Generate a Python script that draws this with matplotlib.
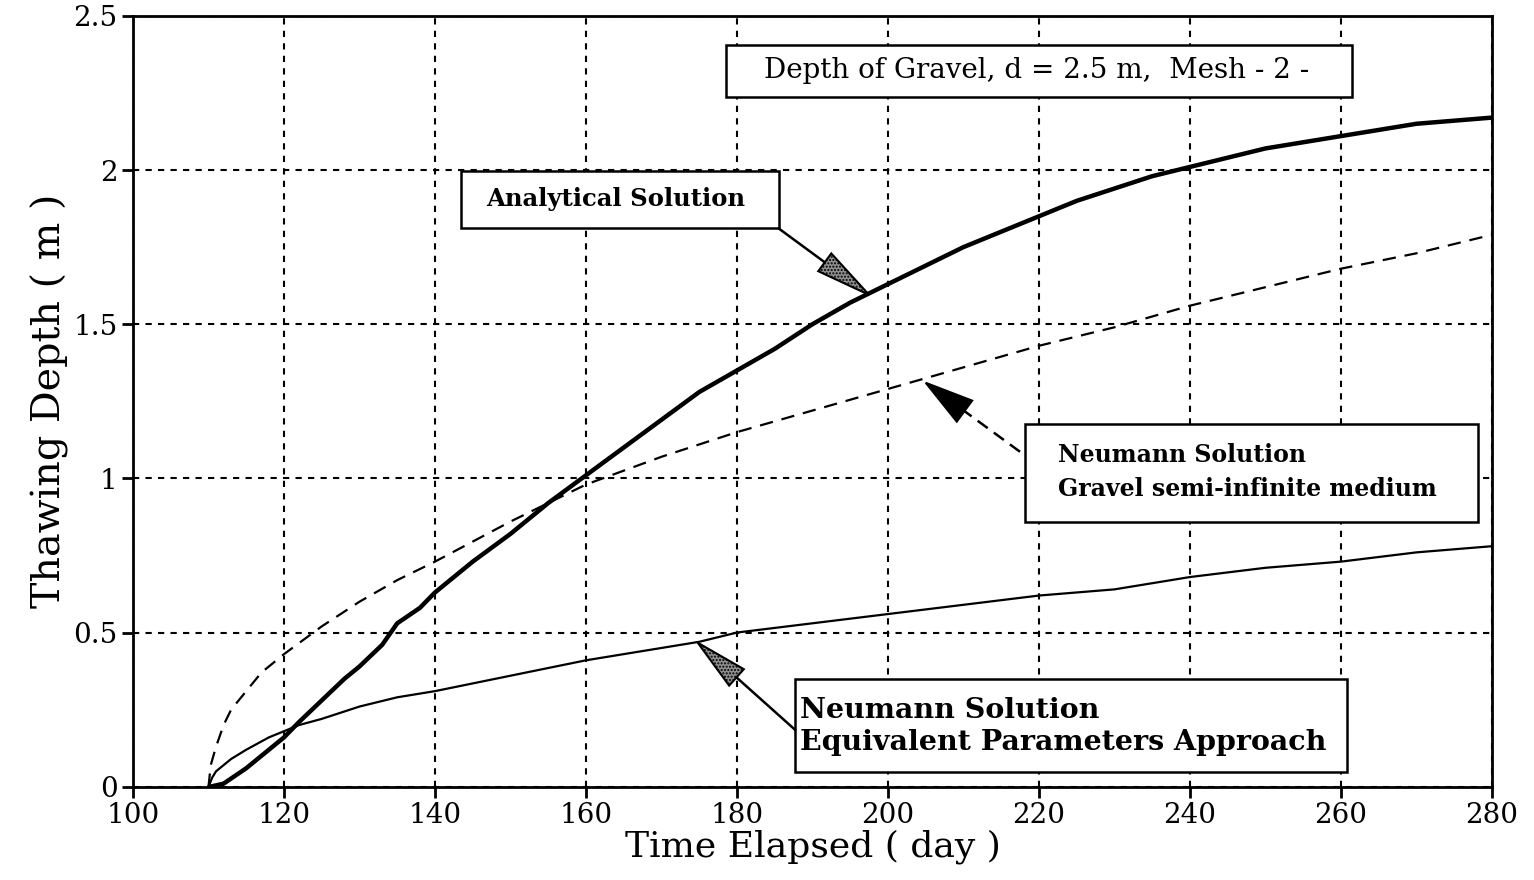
import matplotlib
matplotlib.use("Agg")
import numpy as np
import matplotlib.pyplot as plt
from matplotlib.patches import Rectangle, Polygon
from matplotlib.lines import Line2D

plt.rcParams['font.family'] = ['DejaVu Serif']
plt.rcParams['hatch.linewidth'] = 1.0

# Analytical solution (thick solid)
t_analytical = [110.2, 112, 115, 118, 120, 122, 125, 128, 130, 133, 135, 138, 140, 145, 150, 155, 160,
                165, 170, 175, 180, 185, 190, 195, 200, 205, 210, 215, 220, 225, 230, 235, 240,
                245, 250, 255, 260, 265, 270, 275, 280]
d_analytical = [0.0, 0.01, 0.06, 0.12, 0.16, 0.21, 0.28, 0.35, 0.39, 0.46, 0.53, 0.58, 0.63, 0.73, 0.82, 0.92, 1.01,
                1.10, 1.19, 1.28, 1.35, 1.42, 1.50, 1.57, 1.63, 1.69, 1.75, 1.80, 1.85, 1.90, 1.94, 1.98, 2.01,
                2.04, 2.07, 2.09, 2.11, 2.13, 2.15, 2.16, 2.17]

# Neumann solution, gravel semi-infinite medium (dashed)
t_gravel = [110, 110.3, 111, 112, 113, 115, 117, 120, 125, 130, 135, 140, 150, 160, 170, 180,
            190, 200, 210, 220, 230, 240, 250, 260, 270, 280]
d_gravel = [0.0, 0.07, 0.13, 0.20, 0.25, 0.31, 0.37, 0.43, 0.52, 0.60, 0.67, 0.73, 0.86, 0.98, 1.07, 1.15,
            1.22, 1.29, 1.36, 1.43, 1.49, 1.56, 1.62, 1.68, 1.73, 1.79]

# Neumann solution, equivalent parameters approach (thin solid)
t_equiv = [110, 110.5, 111, 113, 115, 118, 120, 122, 125, 130, 135, 140, 150, 160, 170, 175, 180,
           190, 200, 210, 220, 230, 240, 250, 260, 270, 280]
d_equiv = [0.0, 0.03, 0.05, 0.09, 0.12, 0.16, 0.18, 0.20, 0.22, 0.26, 0.29, 0.31, 0.36, 0.41, 0.45, 0.47, 0.50,
           0.53, 0.56, 0.59, 0.62, 0.64, 0.68, 0.71, 0.73, 0.76, 0.78]

x_ticks = [100, 120, 140, 160, 180, 200, 220, 240, 260, 280]
y_ticks = [0, 0.5, 1, 1.5, 2, 2.5]
y_ticklabels = ['0', '0.5', '1', '1.5', '2', '2.5']

fig = plt.figure(figsize=(15.34, 8.8), dpi=100)
ax = fig.add_axes([0.0867, 0.106, 0.8859, 0.876])

ax.plot(t_analytical, d_analytical, color='black', lw=3.2, zorder=3)
ax.plot(t_gravel, d_gravel, color='black', lw=1.6, ls=(0, (6, 4)), zorder=3)
ax.plot(t_equiv, d_equiv, color='black', lw=1.6, zorder=3)

ax.set_xlim(100, 280)
ax.set_ylim(0, 2.5)
ax.set_xticks(x_ticks)
ax.set_yticks(y_ticks)
ax.set_yticklabels(y_ticklabels)
ax.tick_params(direction='out', length=8, width=2, labelsize=20, pad=3)
ax.grid(True, color='black', lw=1.5, ls=(0, (3, 3)))
for s in ax.spines.values():
    s.set_linewidth(2)
ax.set_xlabel('Time Elapsed ( day )', fontsize=26, labelpad=0)
ax.set_ylabel('Thawing Depth ( m )', fontsize=28.5, labelpad=3)


def box(x, y, w, h):
    ax.add_patch(Rectangle((x, y), w, h, transform=ax.transAxes, fc='white',
                           ec='black', lw=1.8, zorder=5))


def arrow(start_axes, tip_data, head_len, head_w, ls='-', fc='#909090', hatch='.....'):
    s = ax.transAxes.transform(start_axes)
    t = ax.transData.transform(tip_data)
    d = t - s
    u = d / np.hypot(*d)
    n = np.array([-u[1], u[0]])
    base = t - u * head_len
    inv = ax.transData.inverted()
    sd = inv.transform(s)
    bd = inv.transform(base)
    ax.add_line(Line2D([sd[0], bd[0]], [sd[1], bd[1]], color='black', lw=1.8, ls=ls, zorder=6))
    pts = np.array([t, base + n * head_w / 2, base - n * head_w / 2])
    ax.add_patch(Polygon(inv.transform(pts), closed=True, fc=fc, ec='black', lw=1.5,
                         hatch=hatch, zorder=7))


# Title box
box(0.4364, 0.895, 0.4606, 0.0674)
ax.text(0.6648, 0.9287, 'Depth of Gravel, d = 2.5 m,  Mesh - 2 -', transform=ax.transAxes,
        fontsize=20, ha='center', va='center', zorder=6)

# Analytical solution label
box(0.2414, 0.725, 0.234, 0.074)
ax.text(0.3554, 0.763, 'Analytical Solution', transform=ax.transAxes, fontsize=17.5,
        fontweight='bold', ha='center', va='center', zorder=6)
arrow((0.4753, 0.724), (197.5, 1.595), 55, 22)

# Gravel semi-infinite label
box(0.6564, 0.3437, 0.3333, 0.127)
ax.text(0.6806, 0.4306, 'Neumann Solution', transform=ax.transAxes,
        fontsize=17, fontweight='bold', ha='left', va='center', zorder=6)
ax.text(0.6806, 0.3865, 'Gravel semi-infinite medium', transform=ax.transAxes,
        fontsize=17, fontweight='bold', ha='left', va='center', zorder=6)
arrow((0.6527, 0.4345), (205.0, 1.31), 48, 26, ls=(0, (5, 3)), fc='black', hatch=None)

# Equivalent parameters label
box(0.4871, 0.0195, 0.4062, 0.1206)
ax.text(0.4908, 0.0986, 'Neumann Solution', transform=ax.transAxes,
        fontsize=20.5, fontweight='bold', ha='left', va='center', zorder=6)
ax.text(0.4908, 0.0571, 'Equivalent Parameters Approach', transform=ax.transAxes,
        fontsize=20.5, fontweight='bold', ha='left', va='center', zorder=6)
arrow((0.4871, 0.074), (174.8, 0.467), 52, 22)

fig.savefig('out.png', dpi=100, facecolor='white')
